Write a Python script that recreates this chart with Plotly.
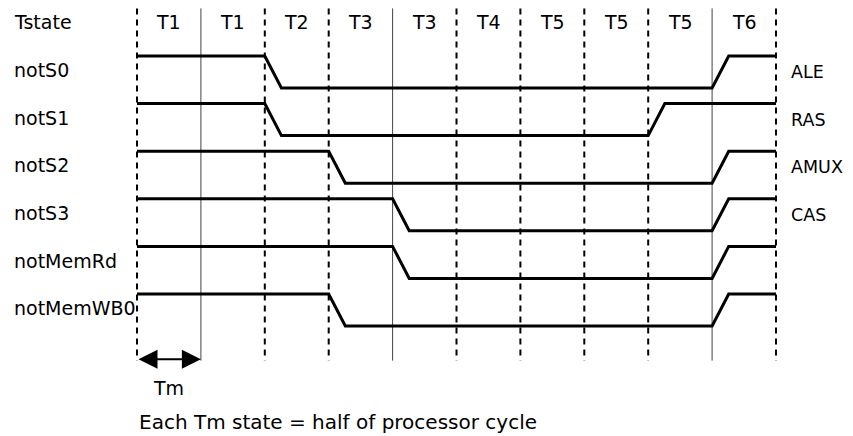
import plotly.graph_objects as go

# ---- data ----
tstate_labels = ["T1", "T1", "T2", "T3", "T3", "T4", "T5", "T5", "T5", "T6"]
boundaries = [0, 1, 2, 3, 4, 5, 6, 7, 8, 9, 10]
boundary_styles = ["dash", "solid", "dash", "dash", "solid", "dash", "dash", "dash", "dash", "solid", "dash"]
signal_names = ["notS0", "notS1", "notS2", "notS3", "notMemRd", "notMemWB0"]
right_labels = ["ALE", "RAS", "AMUX", "CAS", "", ""]
fall_at = [2, 2, 3, 4, 4, 3]
rise_at = [9, 8, 9, 9, 9, 9]
edge_time = 0.26
footer = "Each Tm state = half of processor cycle"

# ---- geometry (page has an 8px body margin) ----
PAGE_MARGIN = 8
W, H = 853 - PAGE_MARGIN, 436 - PAGE_MARGIN
X0_PX, UNIT_PX = 137 - PAGE_MARGIN, 63.9
Y0_PX, ROW_PX = 56 - PAGE_MARGIN, 47.6
AMP = 32 / ROW_PX

FONT = "DejaVu Sans"
FS = 19

fig = go.Figure()

# boundaries
for b, st in zip(boundaries, boundary_styles):
    if st == "dash":
        fig.add_trace(go.Scatter(x=[b, b], y=[-1.0, 6.4], mode="lines",
                                 line=dict(color="black", width=2, dash="6px,5px"),
                                 hoverinfo="skip", showlegend=False))
    else:
        fig.add_trace(go.Scatter(x=[b, b], y=[-1.0, 6.4], mode="lines",
                                 line=dict(color="#444", width=1),
                                 hoverinfo="skip", showlegend=False))

# signals
for i, (name, f, r) in enumerate(zip(signal_names, fall_at, rise_at)):
    xs = [boundaries[0], f, f + edge_time, r, r + edge_time, boundaries[-1]]
    lv = [1, 1, 0, 0, 1, 1]
    ys = [i + (1 - v) * AMP for v in lv]
    fig.add_trace(go.Scatter(x=xs, y=ys, mode="lines",
                             line=dict(color="black", width=3),
                             hoverinfo="skip", showlegend=False, name=name))

ann = []
# header
ann.append(dict(x=-1.956, y=-0.72, text="Tstate", xanchor="left", yanchor="middle", showarrow=False))
for k, lab in enumerate(tstate_labels):
    ann.append(dict(x=boundaries[k] + 0.5, y=-0.72, text=lab, xanchor="center", yanchor="middle", showarrow=False))
for i, name in enumerate(signal_names):
    ann.append(dict(x=-1.956, y=i + AMP / 2 - 0.04, text=name, xanchor="left", yanchor="middle", showarrow=False))
    if right_labels[i]:
        ann.append(dict(x=10.2, y=i + AMP / 2, text=right_labels[i], xanchor="left", yanchor="middle",
                        showarrow=False, font_size=17.5))

# Tm arrow
ann.append(dict(x=boundaries[1], y=6.37, ax=boundaries[0], ay=6.37, axref="x", ayref="y",
                xref="x", yref="y", text="", showarrow=True, arrowhead=2, arrowside="end+start",
                arrowwidth=2, arrowsize=1.9, arrowcolor="black", standoff=0, startstandoff=0))
ann.append(dict(x=0.5, y=6.97, text="Tm", xanchor="center", yanchor="middle", showarrow=False))
ann.append(dict(x=0, y=7.69, text=footer, xanchor="left", yanchor="middle", showarrow=False,
                font_size=20))

for a in ann:
    a.setdefault("xref", "x")
    a.setdefault("yref", "y")
    size = a.pop("font_size", FS)
    a["font"] = dict(family=FONT, size=size, color="black")

fig.update_layout(
    width=W, height=H,
    margin=dict(l=0, r=0, t=0, b=0),
    paper_bgcolor="white", plot_bgcolor="white",
    annotations=ann,
    xaxis=dict(range=[-X0_PX / UNIT_PX, (W - X0_PX) / UNIT_PX], visible=False, fixedrange=True),
    yaxis=dict(range=[(H - Y0_PX) / ROW_PX, -Y0_PX / ROW_PX], visible=False, fixedrange=True),
    showlegend=False,
)

fig.write_html("out.html")
